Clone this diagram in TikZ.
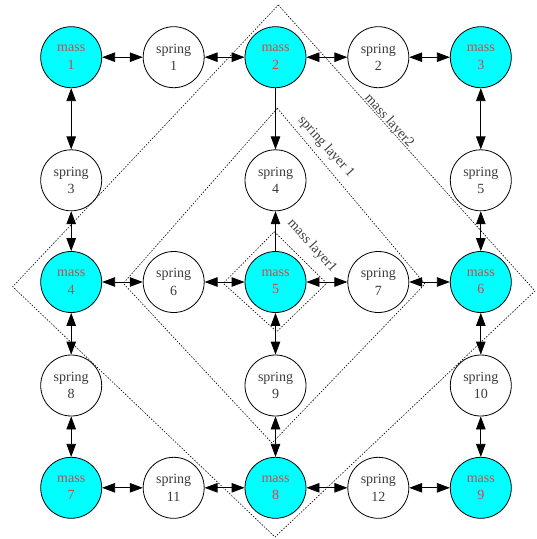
\documentclass[tikz,border=0pt]{standalone}
\usepackage{fontspec}
\setmainfont{Liberation Serif}
\usetikzlibrary{arrows.meta}
\definecolor{massfill}{RGB}{0,255,255}
\definecolor{masstext}{RGB}{210,70,70}
\definecolor{springtext}{RGB}{60,60,60}
\begin{document}
\begin{tikzpicture}[x=1pt,y=-1pt,
  massnode/.style={circle,draw=black,line width=0.8pt,fill=massfill,minimum size=61pt,inner sep=0pt,align=center,text=masstext,font=\fontsize{14}{17.5}\selectfont},
  springnode/.style={circle,draw=black,line width=0.8pt,fill=white,minimum size=61pt,inner sep=0pt,align=center,text=springtext,font=\fontsize{14}{17.5}\selectfont},
  link/.style={line width=0.8pt,{Triangle[length=13pt,width=9.5pt]}-{Triangle[length=13pt,width=9.5pt]}},
  onelink/.style={line width=0.8pt,-{Triangle[length=13pt,width=9.5pt]}},
  layer/.style={draw=black,line width=0.6pt,dash pattern=on 1.5pt off 1.5pt},
  layerlabel/.style={text=springtext,font=\fontsize{14}{17}\selectfont,rotate=-48,inner sep=0pt}]
\useasboundingbox (0,0) rectangle (537,539);
% layers
\draw[layer] (278.3,5) -- (535,291) -- (275,537) -- (12.7,286.7) -- cycle;
\draw[layer] (277.3,108.3) -- (425,284) -- (272,443) -- (123.3,283.3) -- cycle;
\draw[layer] (274.3,231.7) -- (326.7,283.3) -- (276.7,331.7) -- (223.3,283.3) -- cycle;
\node[layerlabel] (lab2) at (389,121) {mass layer2};
\node[layerlabel] (labs) at (326,147) {spring layer 1};
\node[layerlabel] (lab1) at (312,246) {mass layer1};
% nodes
\node[massnode] (m1) at (71.2,57.2) {mass\\1};
\node[springnode] (s1) at (173.7,57.2) {spring\\1};
\node[massnode] (m2) at (275.5,57.2) {mass\\2};
\node[springnode] (s2) at (378.3,57.2) {spring\\2};
\node[massnode] (m3) at (480.8,57.2) {mass\\3};
\node[springnode] (s3) at (71.2,180.3) {spring\\3};
\node[springnode] (s4) at (275.5,180.3) {spring\\4};
\node[springnode] (s5) at (480.8,180.3) {spring\\5};
\node[massnode] (m4) at (71.2,282) {mass\\4};
\node[springnode] (s6) at (173.7,282) {spring\\6};
\node[massnode] (m5) at (275.5,282) {mass\\5};
\node[springnode] (s7) at (378.3,282) {spring\\7};
\node[massnode] (m6) at (480.8,282) {mass\\6};
\node[springnode] (s8) at (71.2,385.5) {spring\\8};
\node[springnode] (s9) at (275.5,385.5) {spring\\9};
\node[springnode] (s10) at (480.8,385.5) {spring\\10};
\node[massnode] (m7) at (71.2,487.8) {mass\\7};
\node[springnode] (s11) at (173.7,487.8) {spring\\11};
\node[massnode] (m8) at (275.5,487.8) {mass\\8};
\node[springnode] (s12) at (378.3,487.8) {spring\\12};
\node[massnode] (m9) at (480.8,487.8) {mass\\9};
% connectors
\draw[link] (m1) -- (s1);
\draw[link] (s1) -- (m2);
\draw[link] (m2) -- (s2);
\draw[link] (s2) -- (m3);
\draw[link] (m1) -- (s3);
\draw[link] (s3) -- (m4);
\draw[onelink] (m2) -- (s4);
\draw[onelink] (m5) -- (s4);
\draw[link] (m3) -- (s5);
\draw[link] (s5) -- (m6);
\draw[link] (m4) -- (s6);
\draw[link] (s6) -- (m5);
\draw[link] (m5) -- (s7);
\draw[link] (s7) -- (m6);
\draw[link] (m4) -- (s8);
\draw[link] (s8) -- (m7);
\draw[link] (m5) -- (s9);
\draw[link] (s9) -- (m8);
\draw[link] (m6) -- (s10);
\draw[link] (s10) -- (m9);
\draw[link] (m7) -- (s11);
\draw[link] (s11) -- (m8);
\draw[link] (m8) -- (s12);
\draw[link] (s12) -- (m9);
\end{tikzpicture}
\end{document}
